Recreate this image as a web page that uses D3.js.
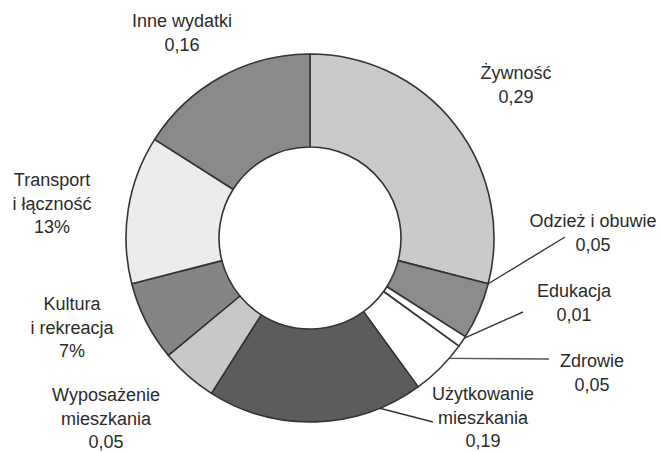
<!DOCTYPE html>
<html>
<head>
<meta charset="utf-8">
<script src="https://cdn.jsdelivr.net/npm/d3@7"></script>
<style>
  html, body { margin: 0; padding: 0; background: #ffffff; }
  svg { display: block; }
  text { font-family: "Liberation Sans", Arial, sans-serif; }
</style>
</head>
<body>
<svg id="chart" width="660" height="452"></svg>
<script>
// ---- data ----
const categories = ["Żywność", "Odzież i obuwie", "Edukacja", "Zdrowie",
  "Użytkowanie mieszkania", "Wyposażenie mieszkania", "Kultura i rekreacja",
  "Transport i łączność", "Inne wydatki"];
const values = [0.29, 0.05, 0.01, 0.05, 0.19, 0.05, 0.07, 0.13, 0.16];
const valueLabels = ["0,29", "0,05", "0,01", "0,05", "0,19", "0,05", "7%", "13%", "0,16"];
const nameLines = [["Żywność"], ["Odzież i obuwie"], ["Edukacja"], ["Zdrowie"],
  ["Użytkowanie", "mieszkania"], ["Wyposażenie", "mieszkania"], ["Kultura", "i rekreacja"],
  ["Transport", "i łączność"], ["Inne wydatki"]];

// ---- styling / layout (kept separate from data) ----
const fills = ["#cacaca", "#8c8c8c", "#ffffff", "#ffffff", "#5c5c5c",
  "#c8c8c8", "#858585", "#ececec", "#8a8a8a"];
// label anchor: centre x, first baseline y
const labelPos = [[516, 79], [593, 227], [574, 297], [592, 367], [483, 400],
  [106, 401], [72, 310], [52, 186], [182, 27]];
// leader lines: fraction within slice where the line leaves the ring, and end point
const leaders = [null, {t: 0.0, end: [565, 237]}, {t: 0.15, end: [523, 312]},
  {t: 0.27, end: [549, 359]}, {t: 0.2, end: [433, 422]}, null, null, null, null];

const cx = 310, cy = 238, rOuter = 184, rInner = 91, lineH = 23.5;

const svg = d3.select("#chart");
const g = svg.append("g").attr("transform", `translate(${cx},${cy})`);

const rows = categories.map((c, i) => ({name: c, value: values[i], i}));
const pie = d3.pie().sort(null).value(d => d.value).startAngle(0).endAngle(2 * Math.PI);
const arcs = pie(rows);
const arc = d3.arc().innerRadius(rInner).outerRadius(rOuter);

g.selectAll("path.slice")
  .data(arcs)
  .join("path")
  .attr("class", "slice")
  .attr("d", arc)
  .attr("fill", d => fills[d.data.i])
  .attr("stroke", "#333333")
  .attr("stroke-width", 1.6)
  .attr("stroke-linejoin", "round");

// leader lines
arcs.forEach(d => {
  const L = leaders[d.data.i];
  if (!L) return;
  const a = d.startAngle + L.t * (d.endAngle - d.startAngle);
  const x0 = cx + rOuter * Math.sin(a), y0 = cy - rOuter * Math.cos(a);
  svg.append("line")
    .attr("x1", x0).attr("y1", y0)
    .attr("x2", L.end[0]).attr("y2", L.end[1])
    .attr("stroke", d.data.i === 3 ? "#555555" : "#333333")
    .attr("stroke-width", 1.4);
});

// labels
const lbl = svg.append("g").attr("fill", "#2b2b2b").attr("font-size", 18).attr("text-anchor", "middle");
rows.forEach(r => {
  const [x, y] = labelPos[r.i];
  const lines = nameLines[r.i].concat([valueLabels[r.i]]);
  const t = lbl.append("text").attr("x", x).attr("y", y);
  lines.forEach((s, k) => {
    t.append("tspan").attr("x", x).attr("y", y + k * lineH).text(s);
  });
});
</script>
</body>
</html>
